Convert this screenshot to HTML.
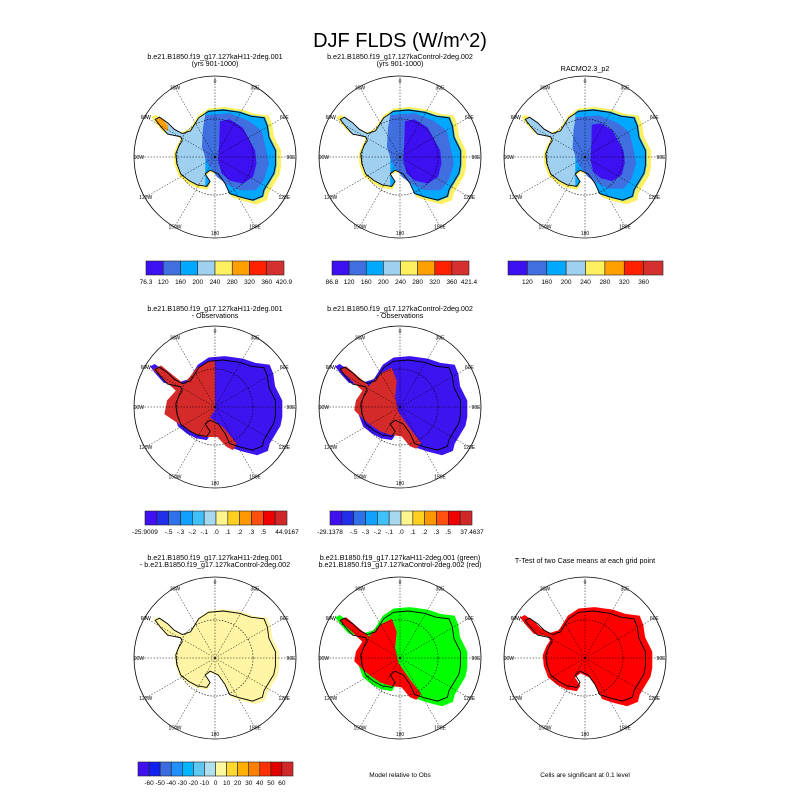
<!DOCTYPE html>
<html><head><meta charset="utf-8"><style>
body{margin:0;background:#fff;}
svg{display:block;font-family:"Liberation Sans",sans-serif;}
</style></head><body>
<svg id="c" width="800" height="800" viewBox="0 0 800 800">
<text x="400" y="47" text-anchor="middle" font-size="20">DJF FLDS (W/m^2)</text>
</svg>
<script>
const NS="http://www.w3.org/2000/svg";
const svg=document.getElementById('c');
// ---- data ----
const colCenters=[215,400,585];
const rowCenters=[157,407,658];
const R=81;
const meridianLabels=["0","30E","60E","90E","120E","150E","180","150W","120W","90W","60W","30W"];
const panelTitles=[
 [0,0,"b.e21.B1850.f19_g17.127kaH11-2deg.001","(yrs 901-1000)"],
 [0,1,"b.e21.B1850.f19_g17.127kaControl-2deg.002","(yrs 901-1000)"],
 [0,2,"","RACMO2.3_p2"],
 [1,0,"b.e21.B1850.f19_g17.127kaH11-2deg.001","- Observations"],
 [1,1,"b.e21.B1850.f19_g17.127kaControl-2deg.002","- Observations"],
 [2,0,"b.e21.B1850.f19_g17.127kaH11-2deg.001","- b.e21.B1850.f19_g17.127kaControl-2deg.002"],
 [2,1,"b.e21.B1850.f19_g17.127kaH11-2deg.001 (green)","b.e21.B1850.f19_g17.127kaControl-2deg.002 (red)"],
 [2,2,"","T-Test of two Case means at each grid point"]
];
const coast=[[235,180],[280,176],[330,183],[365,195],[405,200],[415,225],[420,260],[440,300],[440,345],[435,370],[420,395],[405,420],[400,440],[370,452],[330,442],[300,432],[285,400],[265,372],[240,360],[225,372],[240,395],[230,410],[200,405],[175,392],[150,372],[138,340],[135,310],[145,285],[155,270],[150,258],[110,250],[90,228],[72,205],[85,198],[110,215],[130,235],[155,248],[180,240],[205,200]];
const purple=[[270,210],[300,205],[340,230],[362,270],[378,300],[382,340],[372,380],[340,402],[300,392],[275,370],[265,330],[268,280]];
const royal=[[225,192],[300,186],[360,210],[398,240],[410,290],[420,340],[405,390],[380,422],[330,422],[290,402],[262,382],[232,340],[215,290],[218,232]];
const westRed=[[65,205],[90,193],[160,250],[200,200],[240,180],[255,180],[255,330],[240,352],[280,382],[322,432],[310,452],[290,442],[262,412],[220,412],[190,402],[160,382],[130,362],[100,342],[108,300],[135,270]];
const westRed2=[[70,205],[90,195],[160,255],[200,215],[230,200],[245,240],[240,290],[250,335],[285,385],[320,430],[305,448],[285,440],[260,410],[225,405],[195,395],[165,375],[140,355],[115,330],[120,300],[140,270]];
const cb1Colors=["#3c10f0","#4070e0","#00a8ff","#a0d0f0","#fff060","#ffa000","#ff2000","#d43030"];
const cb1aLabels=[[0,"76.3"],[1,"120"],[2,"160"],[3,"200"],[4,"240"],[5,"280"],[6,"320"],[7,"360"],[8,"420.9"]];
const cb1bLabels=[[0,"86.8"],[1,"120"],[2,"160"],[3,"200"],[4,"240"],[5,"280"],[6,"320"],[7,"360"],[8,"421.4"]];
const cb1cLabels=[[1,"120"],[2,"160"],[3,"200"],[4,"240"],[5,"280"],[6,"320"],[7,"360"]];
const cb2Colors=["#4010f0","#2030e8","#3070e8","#10a0ff","#40c0f8","#a8d8f0","#fff590","#ffd020","#ff9800","#ff5010","#f00000","#d02828"];
const cb2aLabels=[[0,"-25.9009"],[2,"-.5"],[3,"-.3"],[4,"-.2"],[5,"-.1"],[6,".0"],[7,".1"],[8,".2"],[9,".3"],[10,".5"],[12,"44.9167"]];
const cb2bLabels=[[0,"-29.1378"],[2,"-.5"],[3,"-.3"],[4,"-.2"],[5,"-.1"],[6,".0"],[7,".1"],[8,".2"],[9,".3"],[10,".5"],[12,"37.4637"]];
const cb3Colors=["#4010f0","#1020f0","#3c6ce0","#2090ff","#00b4ff","#60c8f0","#b0e0f0","#fff8a0","#ffd830","#ffb000","#ff8000","#ff3000","#e00000","#d02828"];
const cb3Labels=[[1,"-60"],[2,"-50"],[3,"-40"],[4,"-30"],[5,"-20"],[6,"-10"],[7,"0"],[8,"10"],[9,"20"],[10,"30"],[11,"40"],[12,"50"],[13,"60"]];
const colorbars=[
 {name:"colorbar-case1",x0:146,x1:284,y:261,colors:cb1Colors,labels:cb1aLabels},
 {name:"colorbar-case2",x0:332,x1:469,y:261,colors:cb1Colors,labels:cb1bLabels},
 {name:"colorbar-obs",x0:508,x1:663,y:261,colors:cb1Colors,labels:cb1cLabels},
 {name:"colorbar-diff1",x0:145,x1:287,y:511,colors:cb2Colors,labels:cb2aLabels},
 {name:"colorbar-diff2",x0:330,x1:472,y:511,colors:cb2Colors,labels:cb2bLabels},
 {name:"colorbar-case-diff",x0:138,x1:293,y:762,colors:cb3Colors,labels:cb3Labels}
];
function mk(t,a,p){const e=document.createElementNS(NS,t);for(const k in a)e.setAttribute(k,a[k]);(p||svg).appendChild(e);return e;}
function pts(list,cx,cy,s,ox,oy){s=s||1;ox=ox||0;oy=oy||0;
 return list.map(p=>{const nx=(p[0]-255)/248,ny=(p[1]-320)/248;
  return ((cx+(nx*s+ox)*R).toFixed(1))+","+((cy+(ny*s+oy)*R).toFixed(1));}).join(" ");}
let clipN=0;
function panel(r,c){
 const cx=colCenters[c],cy=rowCenters[r];
 const g=mk('g',{});
 
 
 return {g,cx,cy};
}
function poly(g,list,cx,cy,fill,s,ox,oy,name){
 const e=mk('polygon',{points:pts(list,cx,cy,s,ox,oy),fill:fill},g);
 
 
 return e;
}
function grid(g,cx,cy){
 const ic=mk('circle',{cx:cx,cy:cy,r:R*0.47,fill:'none',stroke:'#000','stroke-width':0.6,'stroke-dasharray':'1.5,1.5'},g);
 
 
 for(let i=0;i<12;i++){
  const a=i*Math.PI/6;
  const x=cx+Math.sin(a)*R,y=cy-Math.cos(a)*R;
  const l=mk('line',{x1:cx,y1:cy,x2:x,y2:y,stroke:'#000','stroke-width':0.5,'stroke-dasharray':'1.5,1.5'},g);
  
  
  const rr=(i%3===0)?R-5:R-1;
  const lx=cx+Math.sin(a)*rr,ly=cy-Math.cos(a)*rr+2;
  const t=mk('text',{x:lx,y:ly,'text-anchor':'middle','font-size':5},g);
  
  
  t.textContent=meridianLabels[i];
 }
 const oc=mk('circle',{cx:cx,cy:cy,r:R,fill:'none',stroke:'#000','stroke-width':0.8},g);
 
 
}
function coastLine(g,cx,cy){
 const e=mk('polygon',{points:pts(coast,cx,cy),fill:'none',stroke:'#000','stroke-width':0.9},g);
 
 
}
for(let c=0;c<3;c++){
 const {g,cx,cy}=panel(0,c);
 poly(g,coast,cx,cy,'#fff060',1.08,0.01,0.01,'ocean-margin-fill');
 poly(g,coast,cx,cy,'#a0d0f0',1,0,0,'light-blue-fill');
 const id='cl'+(clipN++);
 const cp=mk('clipPath',{id:id},g);
 mk('polygon',{points:pts(coast,cx,cy,1.02)},cp);
 const cr=mk('rect',{x:cx-0.12*R,y:cy-R,width:R*1.2,height:R*2,fill:'#00a8ff','clip-path':'url(#'+id+')'},g);
 
 
 if(c===0){poly(g,[[72,205],[90,200],[110,222],[112,240],[90,232]],cx,cy,'#ffa000',1,0,0,'orange-peninsula');}
 poly(g,royal,cx,cy,'#4070e0',c===2?0.95:1,0,0,'royal-blue-fill');
 poly(g,purple,cx,cy,'#3c10f0',c===2?0.9:1,c===2?0.03:0,0,'purple-interior');
 coastLine(g,cx,cy);grid(g,cx,cy);
}
for(let c=0;c<2;c++){
 const {g,cx,cy}=panel(1,c);
 poly(g,coast,cx,cy,'#3c14f0',1.1,0.01,0.01,'negative-bias-fill');
 poly(g,c===0?westRed:westRed2,cx,cy,'#d42a2a',1,0,0,'positive-bias-fill');
 coastLine(g,cx,cy);grid(g,cx,cy);
}
{
 let {g,cx,cy}=panel(2,0);
 poly(g,coast,cx,cy,'#fff5a5',1.05,0.01,0.01,'case-diff-fill');
 coastLine(g,cx,cy);grid(g,cx,cy);
 ({g,cx,cy}=panel(2,1));
 poly(g,coast,cx,cy,'#00ff00',1.1,0.01,0.01,'green-closer-fill');
 poly(g,westRed2,cx,cy,'#ff0000',1,0,0,'red-closer-fill');
 coastLine(g,cx,cy);grid(g,cx,cy);
 ({g,cx,cy}=panel(2,2));
 poly(g,coast,cx,cy,'#ff0000',1.1,0.01,0.01,'significant-cells-fill');
 coastLine(g,cx,cy);grid(g,cx,cy);
}
const titleY=[[59,66],[311,318],[560,567]];
panelTitles.forEach(t=>{
 const [r,c,a,b]=t;const x=colCenters[c];
 if(a){const e=mk('text',{x:x,y:titleY[r][0],'text-anchor':'middle','font-size':7.2});
  
  
  e.textContent=a;}
 const y2=a?titleY[r][1]:(r===0?71:titleY[r][0]+3);
 const e2=mk('text',{x:x,y:y2,'text-anchor':'middle','font-size':7.2});
 
 
 e2.textContent=b;
});
const n1=mk('text',{x:400,y:777,'text-anchor':'middle','font-size':6.5});


n1.textContent='Model relative to Obs';
const n2=mk('text',{x:585,y:777,'text-anchor':'middle','font-size':6.5});


n2.textContent='Cells are significant at 0.1 level';
colorbars.forEach(cb=>{
 const g=mk('g',{});
 
 
 const n=cb.colors.length,w=(cb.x1-cb.x0)/n,h=14;
 cb.colors.forEach((col,i)=>{
  const r=mk('rect',{x:cb.x0+i*w,y:cb.y,width:w,height:h,fill:col,stroke:'#222','stroke-width':0.6},g);
  
  
 });
 cb.labels.forEach(l=>{
  const t=mk('text',{x:cb.x0+l[0]*w,y:cb.y+h+9,'text-anchor':'middle','font-size':6.5},g);
  
  
  t.textContent=l[1];
 });
});
</script>
</body></html>
